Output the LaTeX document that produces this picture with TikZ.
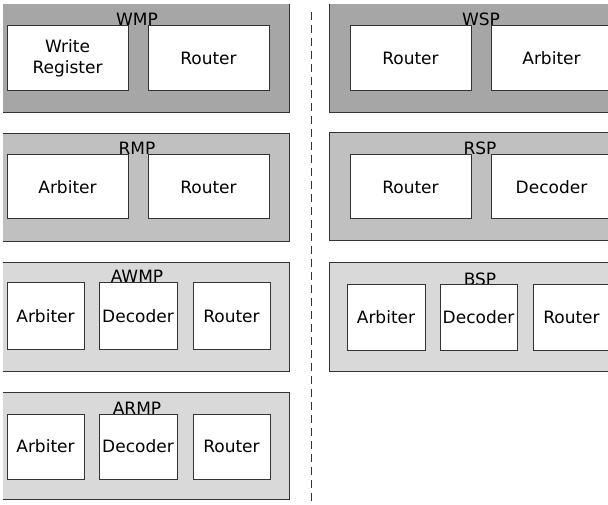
\documentclass[tikz,border=0pt]{standalone}
\usepackage{fontspec}
\setmainfont{DejaVu Sans}
\begin{document}
\begin{tikzpicture}[x=1pt,y=-1pt,
  font=\fontsize{17}{21}\selectfont,
  edge/.style={draw=black!80,line width=1pt},
  group/.style={inner sep=0pt},
  blk/.style={draw=black!80,line width=1pt,fill=white,align=center,inner sep=0pt,minimum height=65pt},
  wide/.style={blk,minimum width=121pt},
  narrow/.style={blk,minimum width=77pt},
  gtitle/.style={anchor=base,inner sep=0pt}
]
\useasboundingbox (0,0) rectangle (608,505);
\definecolor{gdark}{RGB}{166,166,166}
\definecolor{gmid}{RGB}{192,192,192}
\definecolor{glight}{RGB}{217,217,217}

% group backgrounds
\fill[gdark]  (3,4)   rectangle (289,113);
\fill[gmid]   (3,134) rectangle (289,242);
\fill[glight] (3,263) rectangle (289,371);
\fill[glight] (3,392) rectangle (289,499);
\fill[gdark]  (329,4)   rectangle (620,113);
\fill[gmid]   (329,133) rectangle (620,241);
\fill[glight] (329,263) rectangle (620,371);

% group outlines (left column: no left edge; top row: no top edge)
\draw[edge] (289,4) -- (289,113) -- (3,113);
\draw[edge] (3,134) -- (289,134) -- (289,242) -- (3,242);
\draw[edge] (3,263) -- (289,263) -- (289,371) -- (3,371);
\draw[edge] (3,392) -- (289,392) -- (289,499) -- (3,499);
\draw[edge] (329,4) -- (329,113) -- (620,113);
\draw[edge] (620,133) -- (329,133) -- (329,241) -- (620,241);
\draw[edge] (620,263) -- (329,263) -- (329,371) -- (620,371);

% separator
\coordinate (sepA) at (311,12);
\coordinate (sepB) at (311,505);
\draw[black!80,line width=0.8pt,dash pattern=on 8pt off 5pt] (sepA) -- (sepB);

% group titles
\node[gtitle] (tWMP)  at (137,26)  {WMP};
\node[gtitle] (tRMP)  at (137,155) {RMP};
\node[gtitle] (tAWMP) at (137,283) {AWMP};
\node[gtitle] (tARMP) at (137,414) {ARMP};
\node[gtitle] (tWSP)  at (481,26)  {WSP};
\node[gtitle] (tRSP)  at (480,155) {RSP};
\node[gtitle] (tBSP)  at (480,285) {BSP};

% WMP
\node[wide] (wmpWR) at (67.5,58.5)  {Write\\Register};
\node[wide] (wmpR)  at (208.5,58.5) {Router};
% RMP
\node[wide,minimum height=64pt] (rmpA) at (67.5,187)  {Arbiter};
\node[wide,minimum height=64pt] (rmpR) at (208.5,187) {Router};
% AWMP
\node[narrow,minimum height=66pt] (awmpA) at (45.5,316)  {Arbiter};
\node[narrow,minimum height=66pt,minimum width=78pt] (awmpD) at (138,316) {Decoder};
\node[narrow,minimum height=66pt] (awmpR) at (231.5,316) {Router};
% ARMP
\node[narrow] (armpA) at (45.5,446.5)  {Arbiter};
\node[narrow,minimum width=78pt] (armpD) at (138,446.5) {Decoder};
\node[narrow] (armpR) at (231.5,446.5) {Router};
% WSP
\node[wide] (wspR) at (410.5,58.5) {Router};
\node[wide] (wspA) at (551.5,58.5) {Arbiter};
% RSP
\node[wide,minimum height=64pt] (rspR) at (410.5,187) {Router};
\node[wide,minimum height=64pt] (rspD) at (551.5,187) {Decoder};
% BSP
\node[narrow,minimum width=78pt] (bspA) at (386,317.5)   {Arbiter};
\node[narrow] (bspD) at (478.5,317.5) {Decoder};
\node[narrow] (bspR) at (571.5,317.5) {Router};
\end{tikzpicture}
\end{document}
